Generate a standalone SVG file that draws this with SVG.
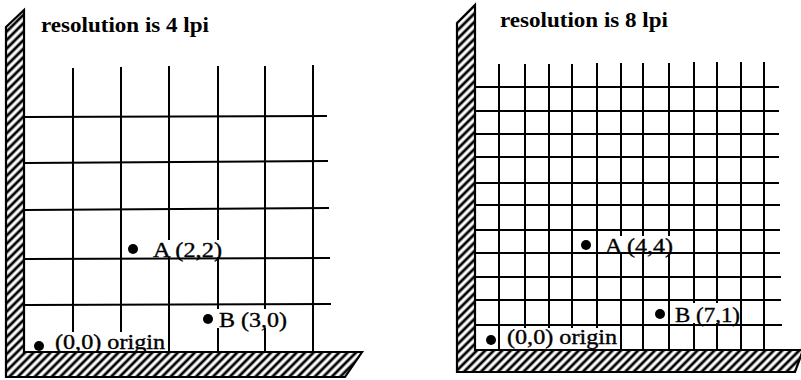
<svg xmlns="http://www.w3.org/2000/svg" width="801" height="380" viewBox="0 0 801 380">
<style>
.grid line{stroke:#000;stroke-width:2}
.wall{fill:url(#hatch);stroke:#000;stroke-width:2.2;stroke-linejoin:miter}
.title{font-family:"Liberation Serif",serif;font-weight:bold;font-size:21px;fill:#000}
.lbl{font-family:"Liberation Serif",serif;font-size:20px;fill:#000;stroke:#000;stroke-width:0.35}
.bg{fill:#fff}
.dot{fill:#000}
</style>
<defs>
<pattern id="hatch" patternUnits="userSpaceOnUse" width="6" height="6" patternTransform="rotate(45)">
<rect width="6" height="6" fill="#fff"/>
<line x1="3" y1="-1" x2="3" y2="7" stroke="#000" stroke-width="2.8"/>
</pattern>
</defs>

<g id="panel-4lpi">
<g id="grid-4lpi" class="grid">
<line x1="73" y1="68" x2="73" y2="352"/>
<line x1="121" y1="67" x2="121" y2="352"/>
<line x1="169" y1="66" x2="169" y2="352"/>
<line x1="218" y1="66" x2="218" y2="352"/>
<line x1="265" y1="66" x2="265" y2="352"/>
<line x1="313" y1="65" x2="313" y2="352"/>
<line x1="25" y1="117" x2="327" y2="116"/>
<line x1="25" y1="163" x2="328" y2="161"/>
<line x1="25" y1="210" x2="329" y2="208"/>
<line x1="25" y1="259" x2="330" y2="258"/>
<line x1="25" y1="305" x2="331" y2="304"/>
</g>
<g id="labels-4lpi">
<text class="title" x="41" y="32" textLength="168" lengthAdjust="spacingAndGlyphs">resolution is 4 lpi</text>
<rect class="bg" x="150" y="240" width="74" height="17"/>
<circle class="dot" cx="133" cy="249" r="5"/>
<text class="lbl" x="153" y="257" textLength="69" lengthAdjust="spacingAndGlyphs">A (2,2)</text>
<rect class="bg" x="216" y="309" width="73" height="19"/>
<circle class="dot" cx="208" cy="319" r="5"/>
<text class="lbl" x="219" y="327" textLength="68" lengthAdjust="spacingAndGlyphs">B (3,0)</text>
<rect class="bg" x="52" y="332" width="115" height="20"/>
<circle class="dot" cx="39" cy="346" r="5"/>
<text class="lbl" x="55" y="349" textLength="110" lengthAdjust="spacingAndGlyphs">(0,0) origin</text>
</g>
<polygon id="wall-4lpi" class="wall" points="6,27 24,10 24,352 362,352 345,377 6,377"/>
</g>

<g id="panel-8lpi">
<g id="grid-8lpi" class="grid">
<line x1="499" y1="64" x2="499" y2="350"/>
<line x1="525" y1="64" x2="525" y2="350"/>
<line x1="549" y1="64" x2="549" y2="350"/>
<line x1="572" y1="64" x2="572" y2="350"/>
<line x1="597" y1="63" x2="597" y2="350"/>
<line x1="621" y1="63" x2="621" y2="350"/>
<line x1="643" y1="63" x2="643" y2="350"/>
<line x1="669" y1="63" x2="669" y2="350"/>
<line x1="694" y1="62" x2="694" y2="350"/>
<line x1="717" y1="62" x2="717" y2="350"/>
<line x1="741" y1="62" x2="741" y2="350"/>
<line x1="764" y1="62" x2="764" y2="350"/>
<line x1="475" y1="87" x2="779" y2="87"/>
<line x1="475" y1="111" x2="779" y2="111"/>
<line x1="475" y1="134" x2="779" y2="134"/>
<line x1="475" y1="157" x2="779" y2="157"/>
<line x1="475" y1="183" x2="779" y2="183"/>
<line x1="475" y1="205" x2="780" y2="205"/>
<line x1="475" y1="230" x2="780" y2="230"/>
<line x1="475" y1="253" x2="780" y2="253"/>
<line x1="475" y1="277" x2="781" y2="277"/>
<line x1="475" y1="300" x2="781" y2="300"/>
<line x1="475" y1="325" x2="782" y2="325"/>
</g>
<g id="labels-8lpi">
<text class="title" x="500" y="27" textLength="168" lengthAdjust="spacingAndGlyphs">resolution is 8 lpi</text>
<rect class="bg" x="601" y="236" width="76" height="16"/>
<circle class="dot" cx="586" cy="245" r="5"/>
<text class="lbl" x="605" y="253" textLength="68" lengthAdjust="spacingAndGlyphs">A (4,4)</text>
<rect class="bg" x="674" y="303" width="65" height="20"/>
<circle class="dot" cx="660" cy="314" r="5"/>
<text class="lbl" x="675" y="322" textLength="65" lengthAdjust="spacingAndGlyphs">B (7,1)</text>
<rect class="bg" x="503" y="328" width="116" height="21"/>
<circle class="dot" cx="491" cy="340" r="5"/>
<text class="lbl" x="507" y="344" textLength="110" lengthAdjust="spacingAndGlyphs">(0,0) origin</text>
</g>
<polygon id="wall-8lpi" class="wall" points="457,23 475,5 475,350 803,350 795,372 457,372"/>
</g>
</svg>
